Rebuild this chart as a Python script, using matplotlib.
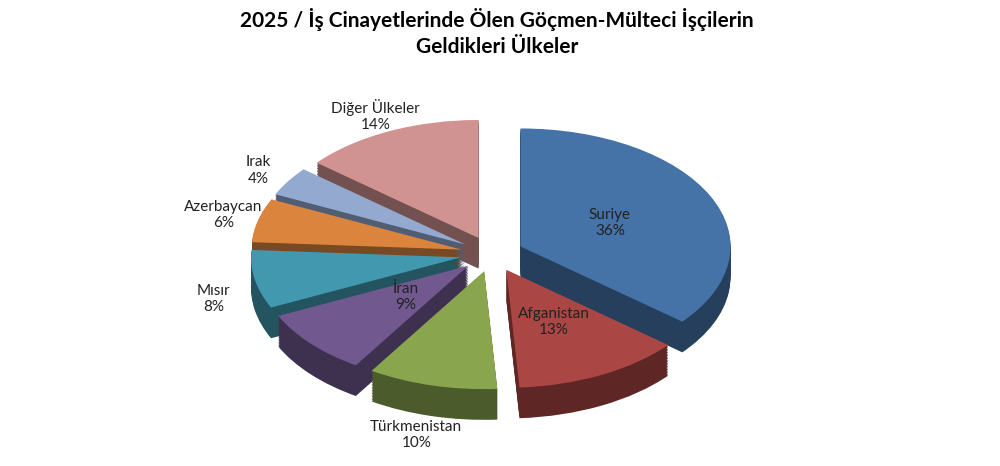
import numpy as np
import matplotlib.pyplot as plt
from matplotlib.colors import to_rgb

plt.rcParams['font.family'] = ['Lato', 'DejaVu Sans']

countries = ["Suriye", "Afganistan", "Türkmenistan", "İran", "Mısır",
             "Azerbaycan", "Irak", "Diğer Ülkeler"]
shares = [36, 13, 10, 9, 8, 6, 4, 14]
colors = ["#4572A7", "#AA4643", "#89A54E", "#71588F", "#4198AF",
          "#DB843D", "#93A9CF", "#D19392"]

EXPLODE = 0.15
DEPTH = 0.26
PX_X, PX_Y = 210, 118  # pixels per data unit

fig = plt.figure(figsize=(10, 4.66), dpi=100)
ax = fig.add_axes([0, 0, 1, 1])
cx, cy = 492, 212

explode = [EXPLODE] * len(shares)
dark = [tuple(c * 0.55 for c in to_rgb(col)) for col in colors]

# side walls: stacked darker copies
for d in np.linspace(DEPTH, 0.01, 20):
    ax.pie(shares, colors=dark, startangle=90, counterclock=False,
           explode=explode, center=(0, -d), frame=True,
           wedgeprops=dict(linewidth=0))
ax.pie(shares, colors=colors, startangle=90, counterclock=False,
       explode=explode, center=(0, 0), frame=True,
       wedgeprops=dict(linewidth=0))
ax.set_xlim(-cx / PX_X, (1000 - cx) / PX_X)
ax.set_ylim(-cy / PX_Y, (466 - cy) / PX_Y)
ax.set_aspect("auto")
ax.axis("off")

# label placement (radius from centre)
label_r = [0.62, 0.65, 1.45, 0.55, 1.35, 1.32, 1.32, 1.3]
start = 90.0
for name, val, r in zip(countries, shares, label_r):
    mid = np.radians(start - val * 3.6 / 2)
    start -= val * 3.6
    x, y = r * np.cos(mid), r * np.sin(mid)
    if r > 1 and np.sin(mid) < 0:
        y -= DEPTH * 0.5
    ax.text(x, y, f"{name}\n{val}%", ha="center", va="center",
            fontsize=11, color="#222222", linespacing=1.2)

fig.text(0.497, 0.93, "2025 / İş Cinayetlerinde Ölen Göçmen-Mülteci İşçilerin\nGeldikleri Ülkeler",
         ha="center", va="center", fontsize=15, fontweight="bold", linespacing=1.4)

fig.savefig("out.png", dpi=100)
